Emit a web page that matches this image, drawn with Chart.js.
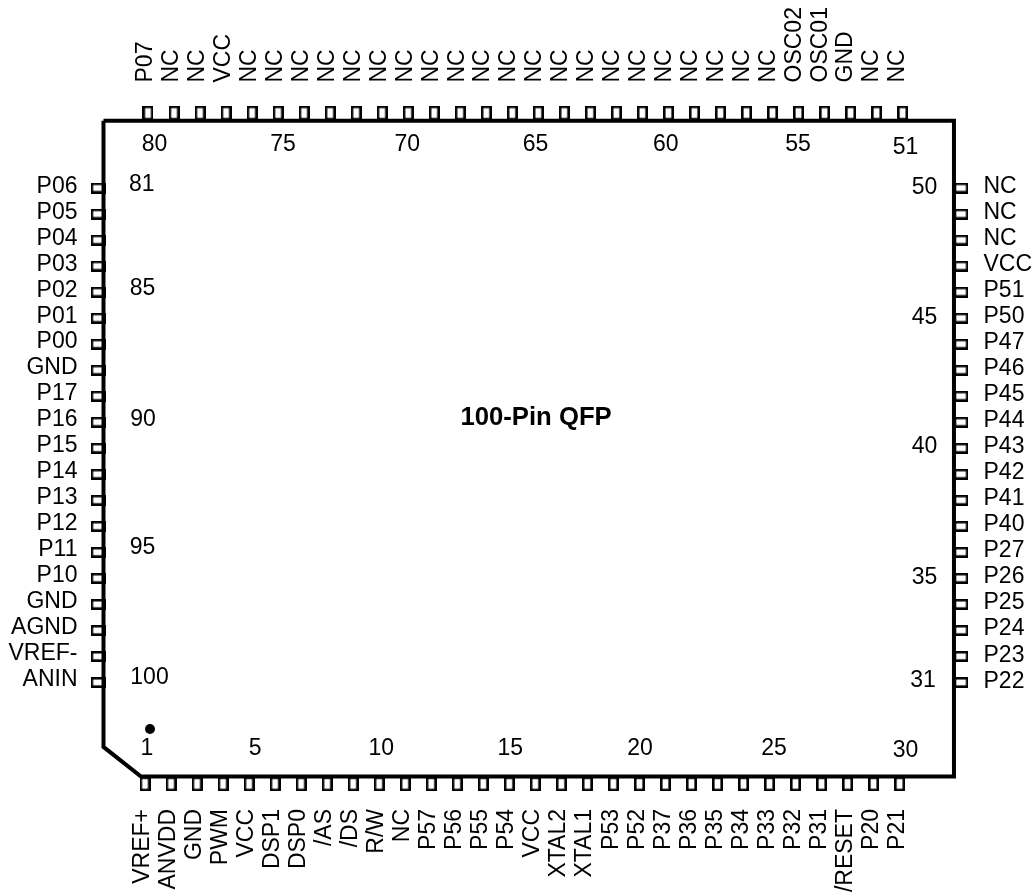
<!DOCTYPE html>
<html><head><meta charset="utf-8">
<style>html,body{margin:0;padding:0;background:#fff}canvas{display:block}</style>
<script src="https://cdn.jsdelivr.net/npm/chart.js@4"></script>
</head><body><canvas id="c" width="1036" height="896"></canvas>
<script>
const bottomPins=["VREF+","ANVDD","GND","PWM","VCC","DSP1","DSP0","/AS","/DS","R/W","NC","P57","P56","P55","P54","VCC","XTAL2","XTAL1","P53","P52","P37","P36","P35","P34","P33","P32","P31","/RESET","P20","P21"];
const rightPins=["NC","NC","NC","VCC","P51","P50","P47","P46","P45","P44","P43","P42","P41","P40","P27","P26","P25","P24","P23","P22"];
const topPins=["P07","NC","NC","VCC","NC","NC","NC","NC","NC","NC","NC","NC","NC","NC","NC","NC","NC","NC","NC","NC","NC","NC","NC","NC","NC","OSC02","OSC01","GND","NC","NC"];
const leftPins=["P06","P05","P04","P03","P02","P01","P00","GND","P17","P16","P15","P14","P13","P12","P11","P10","GND","AGND","VREF-","ANIN"];
const title="100-Pin QFP";
// printed pin numbers: [number, nudge-x, nudge-y] relative to the pin itself
const bottomNumbers=[[1,2,-35.7],[5,6,-35.7],[10,2,-35.7],[15,1,-35.7],[20,0.6,-35.7],[25,4.5,-35.7],[30,6,-33.7]];
const rightNumbers=[[50,-36.5,0],[45,-36.5,0],[40,-36.5,-1.2],[35,-36.5,-0.6],[31,-38,-1.4]];
const topNumbers=[[80,6.5,31.5],[75,5,31.5],[70,-1,31.5],[65,-2.7,31.5],[60,-2.7,31.5],[55,-0.5,31.5],[51,3,34.5]];
const leftNumbers=[[81,43.7,-3],[85,44.5,-3],[90,45,-3],[95,44.5,-4.3],[100,51.5,-4.4]];

// Layout, in units of one pin pitch
const PITCH=26.02, X0=145, Y0=188;
const bodyL=-1.595, bodyR=31.09, bodyT=-2.586, bodyB=22.62, chamX=-0.154, chamY=21.48;
const pinL=-1.806, pinR=31.36, pinT=-2.882, pinB=22.9, topShift=0.115;
const dotU=0.192, dotV=20.79;

function pinCanvas(w,h){
  const c=document.createElement('canvas');c.width=w;c.height=h;
  const g=c.getContext('2d');g.strokeStyle='#000';g.lineWidth=2.6;g.strokeRect(1.3,1.3,w-2.6,h-2.6);
  return c;
}
const vPin=pinCanvas(11,15), hPin=pinCanvas(15,11);
const bottomXY=bottomPins.map((_,i)=>({x:i,y:pinB}));
const topXY=topPins.map((_,i)=>({x:i+topShift,y:pinT}));
const leftXY=leftPins.map((_,i)=>({x:pinL,y:i}));
const rightXY=rightPins.map((_,i)=>({x:pinR,y:i}));
const outline=[{x:bodyL,y:bodyT},{x:bodyR,y:bodyT},{x:bodyR,y:bodyB},{x:chamX,y:bodyB},{x:bodyL,y:chamY},{x:bodyL,y:bodyT}];
const pinSet=(data,st)=>({data,showLine:false,pointStyle:st,pointRadius:6,borderWidth:0});

const labels={id:'labels',afterDatasetsDraw(ch){
  const g=ch.ctx,sx=ch.scales.x,sy=ch.scales.y;
  const FONT='Liberation Sans, Arial, sans-serif';
  g.save();g.fillStyle='#000';g.font='23px '+FONT;g.textBaseline='middle';
  const txt=(t,x,y,al,rot)=>{g.save();g.translate(x,y);if(rot)g.rotate(-Math.PI/2);g.textAlign=al;g.fillText(t,0,0);g.restore();};
  const px=p=>sx.getPixelForValue(p.x), py=p=>sy.getPixelForValue(p.y);
  leftPins.forEach((t,i)=>txt(t,77.5,py(leftXY[i])-1.5-1.5*i/19,'right'));
  rightPins.forEach((t,i)=>txt(t,983.5,py(rightXY[i])-1.2,'left'));
  topPins.forEach((t,i)=>txt(t,px(topXY[i])-2-2.6*i/29,82.5,'left',true));
  bottomPins.forEach((t,i)=>txt(t,px(bottomXY[i])-2.2,809,'right',true));
  bottomNumbers.forEach(([n,dx,dy])=>{const p=bottomXY[n-1];txt(String(n),px(p)+dx,py(p)+dy,'center');});
  rightNumbers.forEach(([n,dx,dy])=>{const p=rightXY[50-n];txt(String(n),px(p)+dx,py(p)+dy,'center');});
  topNumbers.forEach(([n,dx,dy])=>{const p=topXY[80-n];txt(String(n),px(p)+dx,py(p)+dy,'center');});
  leftNumbers.forEach(([n,dx,dy])=>{const p=leftXY[n-81];txt(String(n),px(p)+dx,py(p)+dy,'center');});
  g.font='bold 25.7px '+FONT;
  txt(title,sx.getPixelForValue(15.03),sy.getPixelForValue(8.84),'center');
  g.restore();
}};
new Chart(document.getElementById('c'),{
  type:'scatter',
  data:{datasets:[
    pinSet(bottomXY,vPin),pinSet(topXY,vPin),pinSet(leftXY,hPin),pinSet(rightXY,hPin),
    {data:outline,showLine:true,fill:false,borderColor:'#000',borderWidth:4,pointRadius:0,tension:0,borderJoinStyle:'miter'},
    {data:[{x:dotU,y:dotV}],showLine:false,pointStyle:'circle',pointRadius:5,backgroundColor:'#000',borderColor:'#000',borderWidth:0}
  ]},
  options:{
    responsive:false,animation:false,devicePixelRatio:1,
    layout:{padding:0,autoPadding:false},
    plugins:{legend:{display:false},tooltip:{enabled:false},title:{display:false}},
    scales:{
      x:{type:'linear',display:false,min:-X0/PITCH,max:(1036-X0)/PITCH},
      y:{type:'linear',display:false,reverse:true,min:-Y0/PITCH,max:(896-Y0)/PITCH}
    }
  },
  plugins:[labels]
});
</script></body></html>
